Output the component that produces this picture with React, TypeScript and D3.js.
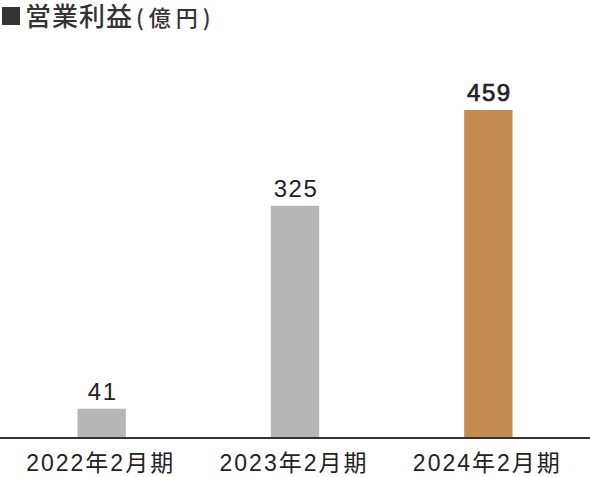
import { useMemo } from 'react';
import * as d3 from 'd3';

const categories = ['2022年2月期', '2023年2月期', '2024年2月期'];
const values = [41, 325, 459];
const highlight = [false, false, true];

const titleMain = '営業利益';
const titleUnit = '(億円)';

const width = 590;
const height = 477;
const margin = { top: 20, right: 5, bottom: 39, left: 5 };
const baseline = height - margin.bottom;

const fontFamily = '"Liberation Sans", "Noto Sans CJK JP", sans-serif';

export default function App() {
  const x = useMemo(
    () =>
      d3
        .scaleBand<string>()
        .domain(categories)
        .range([margin.left, width - margin.right])
        .paddingInner(0.75)
        .paddingOuter(0.375),
    []
  );

  const y = useMemo(() => d3.scaleLinear().domain([0, 459]).range([baseline, 110]), []);

  return (
    <svg
      width={width}
      height={height}
      viewBox={`0 0 ${width} ${height}`}
      style={{ position: 'fixed', left: 0, top: 0, background: '#fff' }}
    >
      {/* title */}
      <rect x={2} y={7} width={18} height={18} fill="#333" />
      <text y={26} fontFamily='"Noto Sans CJK JP", sans-serif' fill="#333" fontWeight={500}>
        <tspan x={25} fontSize={26} letterSpacing={1}>
          {titleMain}
        </tspan>
        <tspan x={136} fontSize={22} letterSpacing={5}>
          {titleUnit}
        </tspan>
      </text>

      {/* bars */}
      {categories.map((c, i) => (
        <g key={c}>
          <rect
            x={x(c) ?? 0}
            y={y(values[i])}
            width={x.bandwidth()}
            height={y(0) - y(values[i])}
            fill={highlight[i] ? '#c48b4f' : '#b5b6b5'}
          />
          <text
            x={(x(c) ?? 0) + x.bandwidth() / 2 + 1}
            y={y(values[i]) - 9}
            textAnchor="middle"
            fontFamily={fontFamily}
            fontSize={24}
            letterSpacing={1.5}
            stroke={highlight[i] ? '#222' : 'none'}
            strokeWidth={0.7}
            fill="#222"
          >
            {values[i]}
          </text>
          <text
            x={(x(c) ?? 0) + x.bandwidth() / 2 - 1}
            y={471}
            textAnchor="middle"
            fontFamily={fontFamily}
            fontSize={23}
            letterSpacing={2}
            fill="#222"
          >
            {c}
          </text>
        </g>
      ))}

      {/* axis line */}
      <line x1={0} x2={width} y1={baseline} y2={baseline} stroke="#333" strokeWidth={2} />
    </svg>
  );
}
